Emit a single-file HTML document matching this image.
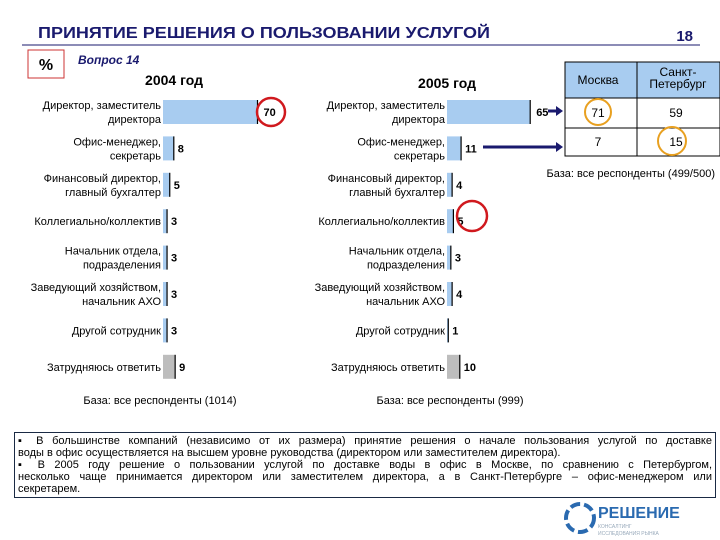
<!DOCTYPE html>
<html><head><meta charset="utf-8"><style>
body{margin:0;background:#fff;font-family:"Liberation Sans",sans-serif;}
svg text{font-family:"Liberation Sans","Noto Sans CJK SC",sans-serif;}
#note{position:absolute;left:14px;top:432px;width:694px;height:62px;border:1px solid #1a2a44;padding:2px 3px 0 3px;font-size:11px;line-height:12px;color:#000;background:#fff;}
#note span{display:block;white-space:nowrap;}
#note span.j{text-align:justify;text-align-last:justify;white-space:normal;}
</style></head><body>
<svg id="s" width="720" height="540" style="position:absolute;left:0;top:0">
<text x="38" y="38" font-size="16" font-weight="bold" fill="#1a1a6e" textLength="452" lengthAdjust="spacingAndGlyphs">ПРИНЯТИЕ РЕШЕНИЯ О ПОЛЬЗОВАНИИ УСЛУГОЙ</text>
<text x="693" y="41" font-size="15" font-weight="bold" fill="#1a1a6e" text-anchor="end">18</text>
<line x1="22" y1="45" x2="700" y2="45" stroke="#1a1a6e" stroke-width="1"/>
<rect x="28" y="50" width="36" height="28" fill="#fff" stroke="#c33"/>
<text x="46" y="70" font-size="16" font-weight="bold" text-anchor="middle">%</text>
<text x="78" y="64" font-size="12" font-style="italic" font-weight="bold" fill="#1a1a6e">Вопрос 14</text>
<text x="174" y="85" font-size="14" font-weight="bold" text-anchor="middle">2004 год</text>
<text x="447" y="88" font-size="14" font-weight="bold" text-anchor="middle">2005 год</text>
<g id="c1"></g><g id="c2"></g>
<text x="160" y="404" font-size="11" text-anchor="middle">База: все респонденты (1014)</text>
<text x="450" y="404" font-size="11" text-anchor="middle">База: все респонденты (999)</text>
<circle cx="271" cy="112" r="14" fill="none" stroke="#d0191e" stroke-width="2.5"/>
<circle cx="472" cy="216" r="15" fill="none" stroke="#d0191e" stroke-width="2.5"/>
<line x1="548" y1="111" x2="556" y2="111" stroke="#1a1a6e" stroke-width="3"/>
<polygon points="556,106 563,111 556,116" fill="#1a1a6e"/>
<line x1="483" y1="147" x2="556" y2="147" stroke="#1a1a6e" stroke-width="3"/>
<polygon points="556,142 563,147 556,152" fill="#1a1a6e"/>
<g>
<rect x="565" y="62" width="155" height="36" fill="#a8ccf0" stroke="#000"/>
<rect x="565" y="98" width="155" height="30" fill="#fff" stroke="#000"/>
<rect x="565" y="128" width="155" height="28" fill="#fff" stroke="#000"/>
<line x1="637" y1="62" x2="637" y2="156" stroke="#000"/>
<text x="598" y="84" font-size="12" text-anchor="middle">Москва</text>
<text x="678" y="76" font-size="12" text-anchor="middle">Санкт-</text>
<text x="678" y="88" font-size="12" text-anchor="middle">Петербург</text>
<text x="598" y="117" font-size="12" text-anchor="middle">71</text>
<text x="676" y="117" font-size="12" text-anchor="middle">59</text>
<text x="598" y="146" font-size="12" text-anchor="middle">7</text>
<text x="676" y="146" font-size="12" text-anchor="middle">15</text>
<circle cx="598" cy="112" r="13" fill="none" stroke="#e8a020" stroke-width="2"/>
<circle cx="672" cy="141" r="14" fill="none" stroke="#e8a020" stroke-width="2"/>
</g>
<text x="715" y="177" font-size="11" text-anchor="end">База: все респонденты (499/500)</text>
<g>
<circle cx="580" cy="518" r="14" fill="none" stroke="#2a6ab0" stroke-width="4" stroke-dasharray="10 4"/>
<text x="598" y="518" font-size="16" font-weight="bold" fill="#2a6ab0">РЕШЕНИЕ</text>
<text x="598" y="528" font-size="5" fill="#9ab">КОНСАЛТИНГ</text>
<text x="598" y="535" font-size="5" fill="#9ab">ИССЛЕДОВАНИЯ РЫНКА</text>
</g>
</svg>
<div id="note"><span class="j">▪ В большинстве компаний (независимо от их размера) принятие решения о начале пользования услугой по доставке</span><span>воды в офис осуществляется на высшем уровне руководства (директором или заместителем директора).</span><span class="j">▪ В 2005 году решение о пользовании услугой по доставке воды в офис в Москве, по сравнению с Петербургом,</span><span class="j">несколько чаще принимается директором или заместителем директора, а в Санкт-Петербурге – офис-менеджером или</span><span>секретарем.</span></div>
<script>
const categories=[["Директор, заместитель","директора"],["Офис-менеджер,","секретарь"],["Финансовый директор,","главный бухгалтер"],["Коллегиально/коллектив"],["Начальник отдела,","подразделения"],["Заведующий хозяйством,","начальник АХО"],["Другой сотрудник"],["Затрудняюсь ответить"]];
const values2004=[70,8,5,3,3,3,3,9];
const values2005=[65,11,4,5,3,4,1,10];
const NS="http://www.w3.org/2000/svg";
function rowY(i){return 112+i*36.4;}
function mk(tag,a,p){const e=document.createElementNS(NS,tag);for(const k in a)e.setAttribute(k,a[k]);p.appendChild(e);return e;}
function draw(gid,vals,ax,scale,name){
 const g=document.getElementById(gid);
 vals.forEach((v,i)=>{
  const cy=rowY(i), w=v*scale, last=i===vals.length-1;
  const r=mk('rect',{x:ax,y:cy-12,width:Math.max(w,1),height:24,fill:last?'#bdbdbd':'#a8ccf0'},g);
  
  
  mk('line',{x1:ax+w,y1:cy-12,x2:ax+w,y2:cy+12,stroke:'#000','stroke-width':1.2},g);
  const t=mk('text',{x:ax+w+(i==0?6:4),y:cy+4,'font-size':11,'font-weight':'bold'},g);
  t.textContent=v;
  
  
  const lines=categories[i];
  lines.forEach((s,j)=>{
   const l=mk('text',{x:ax-2,y:cy+4+(j-(lines.length-1)/2)*14,'font-size':11,'text-anchor':'end'},g);
   l.textContent=s;
   
   
  });
 });
}
draw('c1',values2004,163,1.35,'y2004');
draw('c2',values2005,447,1.28,'y2005');
</script>
</body></html>
